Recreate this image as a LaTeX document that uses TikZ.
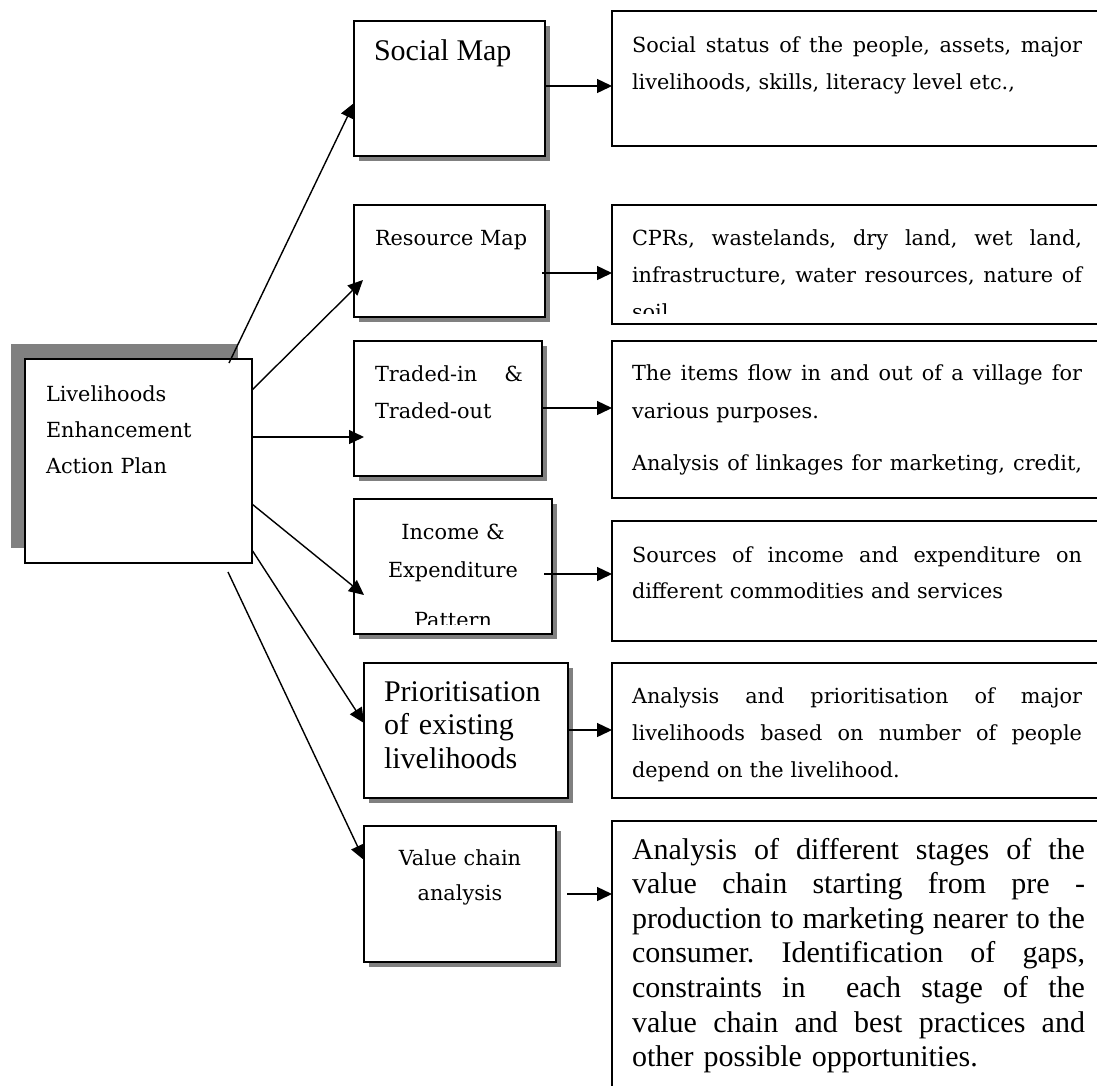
\documentclass[tikz,border=0pt]{standalone}
\usepackage{fontspec}
\setmainfont{DejaVu Serif}
\newfontfamily\timesf{Liberation Serif}
\usetikzlibrary{arrows.meta,shadows}
\definecolor{shadowgray}{RGB}{128,128,128}
\newcommand\jline[2][450pt]{\leavevmode\hbox to #1{\frenchspacing\spaceskip=0.3em plus 4em minus 0.05em\relax #2}}
\tikzset{
  boxbody/.style={draw=black, line width=1.5pt, fill=white, inner sep=0pt},
  sbox/.style={boxbody, drop shadow={shadow xshift=5pt, shadow yshift=-5pt, fill=shadowgray, opacity=1}},
  mainbox/.style={boxbody, drop shadow={shadow xshift=-14pt, shadow yshift=15pt, fill=shadowgray, opacity=1}},
  arr/.style={line width=1.4pt, -{Triangle[length=15pt,width=14pt]}},
  camb/.style={font=\fontsize{20.8}{37}\selectfont, inner sep=0pt, outer sep=0pt},
  tms/.style={font=\timesf\fontsize{30}{34.6}\selectfont, inner sep=0pt, outer sep=0pt},
}
\begin{document}
\begin{tikzpicture}[x=1pt,y=-1pt]
\useasboundingbox (0,0) rectangle (1097,1085);
\clip (0,0) rectangle (1097,1085);

% main box
\node[mainbox, minimum width=227pt, minimum height=204pt] (main) at (138.5,461) {};
\node[camb, font=\fontsize{20.8}{36}\selectfont, anchor=base west, text width=180pt, align=left] (maintext) at (46,401) {Livelihoods\\Enhancement\\Action Plan};

% middle boxes
\node[sbox, minimum width=191pt, minimum height=135pt] (social) at (449.5,88.5) {};
\node[sbox, minimum width=191pt, minimum height=112pt] (resource) at (449.5,261) {};
\node[sbox, minimum width=188pt, minimum height=135pt] (traded) at (448,408.5) {};
\node[sbox, minimum width=198pt, minimum height=135pt] (income) at (453,566.5) {};
\node[sbox, minimum width=204pt, minimum height=135pt] (prior) at (466,730.5) {};
\node[sbox, minimum width=192pt, minimum height=136pt] (value) at (460,894) {};

% right boxes (open to the right edge)
\node[boxbody, minimum width=498pt, minimum height=135pt] (r1) at (861,78.5) {};
\node[boxbody, minimum width=498pt, minimum height=119pt] (r2) at (861,264.5) {};
\node[boxbody, minimum width=498pt, minimum height=157pt] (r3) at (861,419.5) {};
\node[boxbody, minimum width=498pt, minimum height=120pt] (r4) at (861,581) {};
\node[boxbody, minimum width=498pt, minimum height=135pt] (r5) at (861,730.5) {};
\node[boxbody, minimum width=498pt, minimum height=279pt] (r6) at (861,960.5) {};

% middle texts
\node[tms, anchor=base west] (socialtext) at (374,60) {Social Map};
\node[camb, anchor=base west] (resourcetext) at (375,245) {Resource Map};
\node[camb, anchor=base west, text width=148pt, align=left] (tradedtext) at (375,381) {\jline[148pt]{Traded-in \&}\\Traded-out};
\begin{scope}
  \clip (354,499) rectangle (552,624);
  \node[camb, font=\fontsize{20.8}{38}\selectfont, anchor=base, text width=190pt, align=center] (incometext) at (453,539) {Income \&\\Expenditure\\[12pt]Pattern};
\end{scope}
\node[tms, font=\timesf\fontsize{30}{33.5}\selectfont, anchor=base west, text width=180pt, align=left] (priortext) at (384,701) {Prioritisation\\of existing\\livelihoods};
\node[camb, font=\fontsize{20.8}{35}\selectfont, anchor=base, text width=180pt, align=center] (valuetext) at (460,865) {Value chain\\analysis};

% right texts
\node[camb, anchor=base west, text width=450pt, align=left] (r1text) at (632,52) {\jline{Social status of the people, assets, major}\\livelihoods, skills, literacy level etc.,};
\begin{scope}
  \clip (612,205) rectangle (1097,313);
  \node[camb, anchor=base west, text width=450pt, align=left] (r2text) at (632,245) {\jline{CPRs, wastelands, dry land, wet land,}\\\jline{infrastructure, water resources, nature of}\\soil};
\end{scope}
\node[camb, font=\fontsize{20.8}{38}\selectfont, anchor=base west, text width=450pt, align=left] (r3text) at (632,380) {\jline{The items flow in and out of a village for}\\various purposes.};
\node[camb, anchor=base west, text width=450pt, align=left] (r3textb) at (632,470) {\jline{Analysis of linkages for marketing, credit,}};
\node[camb, font=\fontsize{20.8}{36}\selectfont, anchor=base west, text width=450pt, align=left] (r4text) at (632,562) {\jline{Sources of income and expenditure on}\\different commodities and services};
\node[camb, anchor=base west, text width=450pt, align=left] (r5text) at (632,703) {\jline{Analysis and prioritisation of major}\\\jline{livelihoods based on number of people}\\depend on the livelihood.};
\node[tms, anchor=base west, text width=453pt, align=left] (r6text) at (632,859) {\jline[453pt]{Analysis of different stages of the}\\\jline[453pt]{value chain starting from pre -}\\\jline[453pt]{production to marketing nearer to the}\\\jline[453pt]{consumer. Identification of gaps,}\\\jline[453pt]{constraints in\ \ each stage of the}\\\jline[453pt]{value chain and best practices and}\\other possible opportunities.};

% connector end points
\coordinate (s1) at (229,363);  \coordinate (e1) at (354,103);
\coordinate (s2) at (252,390);  \coordinate (e2) at (363,280);
\coordinate (s3) at (252,437);  \coordinate (e3) at (364,437);
\coordinate (s4) at (252,504);  \coordinate (e4) at (364,595);
\coordinate (s5) at (252,550);  \coordinate (e5) at (364,723);
\coordinate (s6) at (228,572);  \coordinate (e6) at (364,860);
\draw[arr] (s1) -- (e1);
\draw[arr] (s2) -- (e2);
\draw[arr] (s3) -- (e3);
\draw[arr] (s4) -- (e4);
\draw[arr] (s5) -- (e5);
\draw[arr] (s6) -- (e6);

\coordinate (t1) at (545,86);  \coordinate (u1) at (612,86);
\coordinate (t2) at (542,273); \coordinate (u2) at (612,273);
\coordinate (t3) at (542,408); \coordinate (u3) at (612,408);
\coordinate (t4) at (544,574); \coordinate (u4) at (612,574);
\coordinate (t5) at (568,730); \coordinate (u5) at (612,730);
\coordinate (t6) at (567,894); \coordinate (u6) at (612,894);
\draw[arr] (t1) -- (u1);
\draw[arr] (t2) -- (u2);
\draw[arr] (t3) -- (u3);
\draw[arr] (t4) -- (u4);
\draw[arr] (t5) -- (u5);
\draw[arr] (t6) -- (u6);
\end{tikzpicture}
\end{document}
